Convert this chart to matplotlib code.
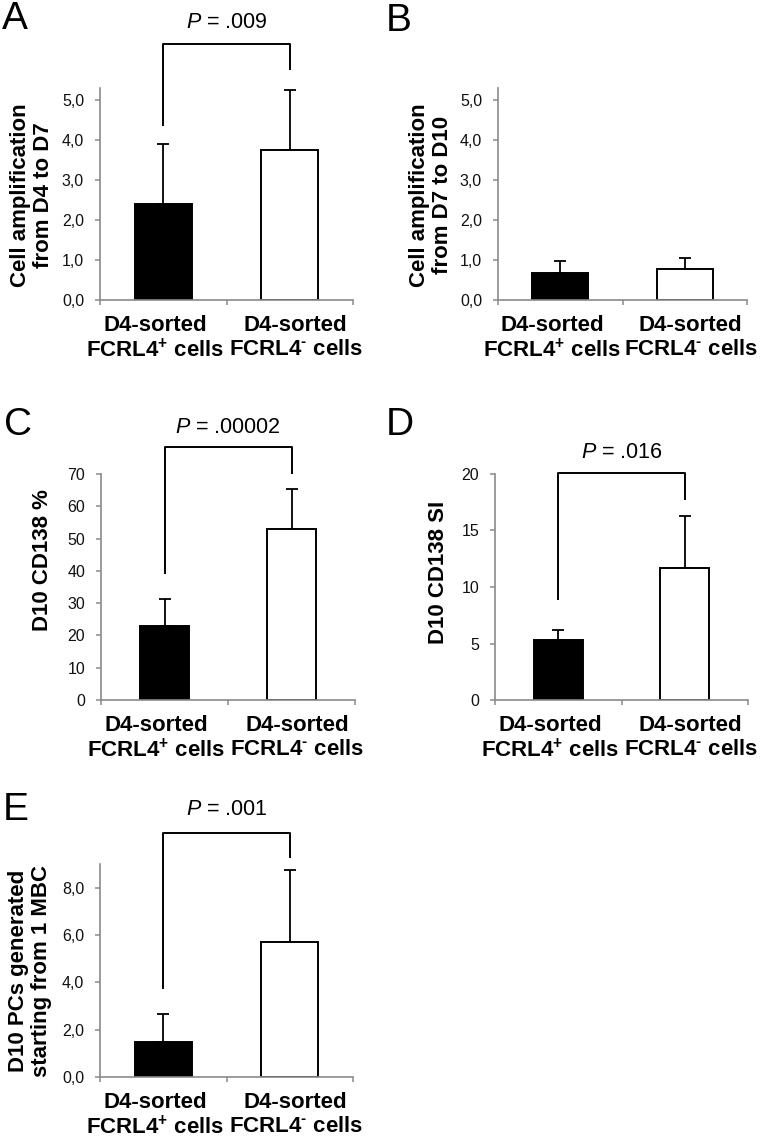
import matplotlib
matplotlib.use("Agg")
import matplotlib.pyplot as plt
from matplotlib.ticker import FuncFormatter
from matplotlib.transforms import ScaledTranslation

plt.rcParams['font.family'] = ['Liberation Sans', 'DejaVu Sans']
plt.rcParams['mathtext.fontset'] = 'custom'
plt.rcParams['mathtext.rm'] = 'Liberation Sans:bold'
plt.rcParams['mathtext.it'] = 'Liberation Sans:italic'
plt.rcParams['mathtext.bf'] = 'Liberation Sans:bold'

# ---------------- data ----------------
categories = ['D4-sorted\nFCRL4$^{\\mathbf{+}}$ cells', 'D4-sorted\nFCRL4$^{\\text{-}}$ cells']

a_means = [2.40, 3.75]
a_err = [1.50, 1.50]
b_means = [0.68, 0.77]
b_err = [0.30, 0.27]
c_means = [22.9, 53.0]
c_err = [8.4, 12.3]
d_means = [5.3, 11.7]
d_err = [0.9, 4.6]
e_means = [1.50, 5.70]
e_err = [1.15, 3.06]

p_values = {'A': '.009', 'C': '.00002', 'D': '.016', 'E': '.001'}

ylabels = {
    'A': 'Cell amplification\nfrom D4 to D7',
    'B': 'Cell amplification\nfrom D7 to D10',
    'C': 'D10 CD138 %',
    'D': 'D10 CD138 SI',
    'E': 'D10 PCs generated\nstarting from 1 MBC',
}

# ---------------- layout ----------------
W, H = 765, 1141
fig = plt.figure(figsize=(W / 100, H / 100), dpi=100)

def rect(x0, x1, ybot, ytop):
    return [x0 / W, 1 - ybot / H, (x1 - x0) / W, (ybot - ytop) / H]

panels = {
    'A': dict(r=rect(100, 353, 300, 88), ylim=5.3, step=1, dec=True, m=a_means, e=a_err, bw=0.45,
              br=(6.4, 4.375, 5.78), pt=6.95, lab=(2, 29), yl=(32, 195)),
    'B': dict(r=rect(498, 747, 300, 88), ylim=5.3, step=1, dec=True, m=b_means, e=b_err, bw=0.45,
              br=None, pt=None, lab=(386, 31), yl=(431, 195)),
    'C': dict(r=rect(101, 355, 700, 474), ylim=70, step=10, dec=False, m=c_means, e=c_err, bw=0.39,
              br=(78.3, 39.3, 70.3), pt=84.5, lab=(4, 435), yl=(43, 560)),
    'D': dict(r=rect(495, 748, 700, 474), ylim=20, step=5, dec=False, m=d_means, e=d_err, bw=0.39,
              br=(20.05, 8.96, 17.8), pt=21.9, lab=(386, 435), yl=(438, 572)),
    'E': dict(r=rect(100, 353, 1077, 864), ylim=9.0, step=2, dec=True, m=e_means, e=e_err, bw=0.45,
              br=(10.3, 3.77, 9.3), pt=11.3, lab=(3, 820), yl=(30, 971)),
}

spine_col = '#8a8a8a'
label_shift_px = [-8, 6]

for key, p in panels.items():
    ax = fig.add_axes(p['r'])
    x = [0, 1]
    ax.bar(x, p['m'], width=p['bw'], color=['black', 'white'], edgecolor='black',
           linewidth=1.4, zorder=2)
    ax.errorbar(x, p['m'], yerr=[[0, 0], p['e']], fmt='none', ecolor='black',
                elinewidth=1.3, capsize=4.5, capthick=1.3, zorder=1)
    ax.set_xlim(-0.5, 1.5)
    ax.set_ylim(0, p['ylim'])
    ticks = [i * p['step'] for i in range(int(p['ylim'] // p['step']) + 1)]
    ax.set_yticks(ticks)
    if p['dec']:
        ax.yaxis.set_major_formatter(FuncFormatter(lambda v, pos: f'{v:.1f}'.replace('.', ',')))
    else:
        ax.yaxis.set_major_formatter(FuncFormatter(lambda v, pos: f'{v:.0f}'))
    for s in ['top', 'right']:
        ax.spines[s].set_visible(False)
    for s in ['left', 'bottom']:
        ax.spines[s].set_color(spine_col)
        ax.spines[s].set_linewidth(1.2)
    ax.tick_params(axis='y', direction='out', length=3.5, width=1.1, color=spine_col,
                   labelsize=11.5, pad=8, labelcolor='#111111')
    ax.set_xticks(x)
    ax.set_xticklabels(categories, fontsize=16, fontweight='bold', linespacing=1.16)
    ax.tick_params(axis='x', which='major', length=0, pad=11)
    for lbl, dx in zip(ax.get_xticklabels(), label_shift_px):
        lbl.set_transform(lbl.get_transform() + ScaledTranslation(dx / 100, 0, fig.dpi_scale_trans))
    ax.set_xticks([-0.5, 0.5, 1.5], minor=True)
    ax.tick_params(axis='x', which='minor', direction='out', length=3.5, width=1.1, color=spine_col)

    if p['br'] is not None:
        ytop, yl, yr = p['br']
        ax.plot([0, 0, 1, 1], [yl, ytop, ytop, yr], color='black', lw=1.4, clip_on=False)
        ax.text(0.5, p['pt'], '$P$ = ' + p_values[key], ha='center', va='center',
                fontsize=15.5, clip_on=False)

    lx, ly = p['lab']
    fig.text(lx / W, 1 - ly / H, key, fontsize=28, ha='left', va='baseline')
    yx, yy = p['yl']
    fig.text(yx / W, 1 - yy / H, ylabels[key], fontsize=16, fontweight='bold',
             rotation=90, ha='center', va='center', multialignment='center', linespacing=1.1)

fig.savefig('out.png', dpi=100, facecolor='white')
